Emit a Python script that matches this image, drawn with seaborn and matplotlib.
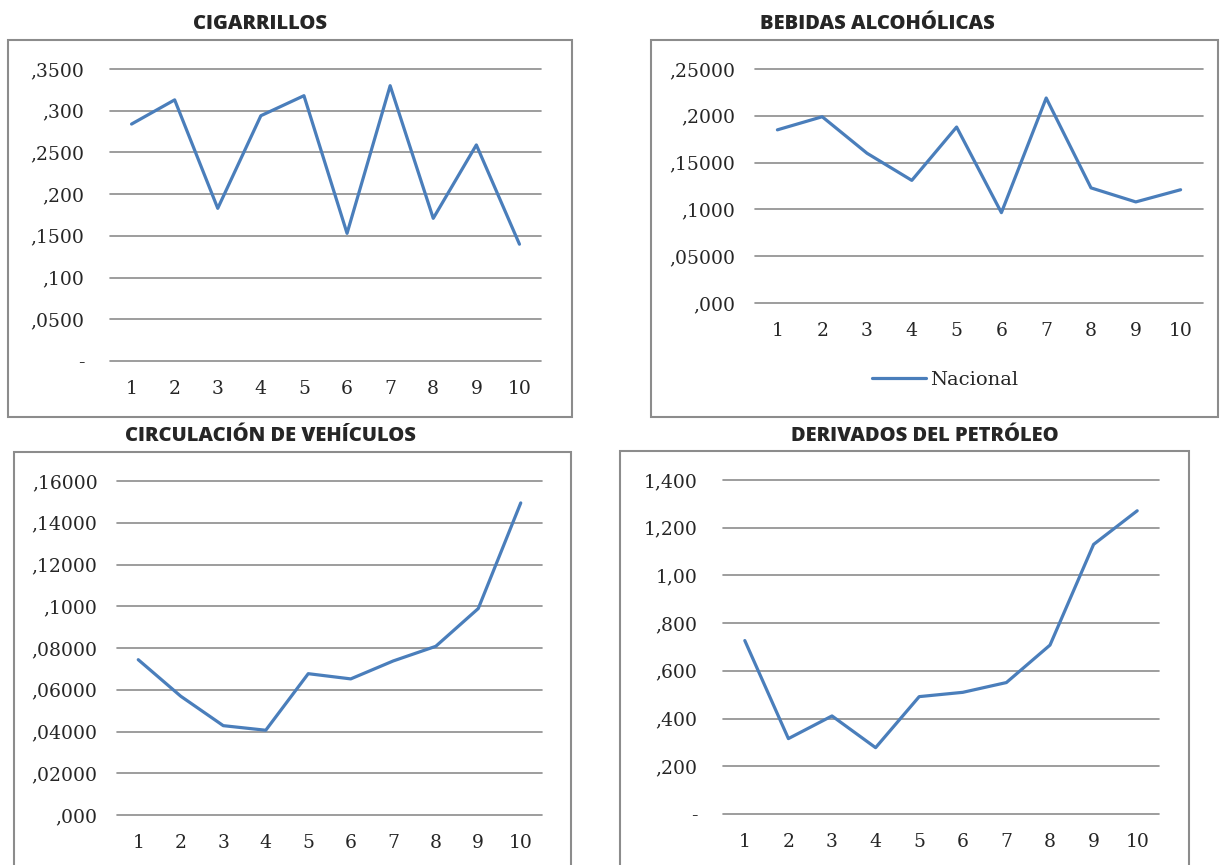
import numpy as np
import pandas as pd
import matplotlib
matplotlib.use("Agg")
import matplotlib.pyplot as plt
from matplotlib.patches import Rectangle
import seaborn as sns

# Periods shown on the x axis
periods = list(range(1, 11))

# Series values per panel
cigarrillos = [0.284, 0.313, 0.183, 0.294, 0.318, 0.153, 0.330, 0.171, 0.259, 0.140]
bebidas = [0.185, 0.199, 0.160, 0.131, 0.188, 0.0965, 0.219, 0.123, 0.108, 0.121]
vehiculos = [0.0744, 0.0569, 0.0428, 0.0406, 0.0677, 0.0652, 0.0738, 0.0808, 0.0989, 0.1495]
petroleo = [0.727, 0.316, 0.411, 0.278, 0.492, 0.510, 0.551, 0.708, 1.130, 1.271]

# Y tick positions and their printed labels
cig_ticks = [0, 0.05, 0.10, 0.15, 0.20, 0.25, 0.30, 0.35]
cig_labels = ["-", ",0500", ",100", ",1500", ",200", ",2500", ",300", ",3500"]
beb_ticks = [0, 0.05, 0.10, 0.15, 0.20, 0.25]
beb_labels = [",000", ",05000", ",1000", ",15000", ",2000", ",25000"]
veh_ticks = [0, 0.02, 0.04, 0.06, 0.08, 0.10, 0.12, 0.14, 0.16]
veh_labels = [",000", ",02000", ",04000", ",06000", ",08000", ",1000", ",12000", ",14000", ",16000"]
pet_ticks = [0, 0.2, 0.4, 0.6, 0.8, 1.0, 1.2, 1.4]
pet_labels = ["-", ",200", ",400", ",600", ",800", "1,00", "1,200", "1,400"]

titles = ["CIGARRILLOS", "BEBIDAS ALCOHÓLICAS", "CIRCULACIÓN DE VEHÍCULOS", "DERIVADOS DEL PETRÓLEO"]
series_name = "Nacional"

sns.set_style("white")
plt.rcParams["font.family"] = ["DejaVu Serif"]

W, H = 1220, 865
fig = plt.figure(figsize=(W / 100, H / 100), dpi=100)

LINE = "#4A7EBB"
GRID = "#8C8C8C"

def fx(px):
    return px / W

def fy(py):
    return 1 - py / H

# panel layout in pixels: plot area (x0, x1, ytop, ybot), frame (x0, x1, ytop, ybot), title centre
panels = [
    dict(area=(110, 541, 69, 361), box=(8, 572, 40, 417), tc=(260, 24),
         y=cigarrillos, ticks=cig_ticks, labels=cig_labels, pad=19.0, legend=False),
    dict(area=(755, 1203, 69, 303), box=(651, 1218, 40, 417), tc=(877, 24),
         y=bebidas, ticks=beb_ticks, labels=beb_labels, pad=15.0, legend=True),
    dict(area=(117, 542, 481, 815), box=(14, 571, 452, 870), tc=(270, 436),
         y=vehiculos, ticks=veh_ticks, labels=veh_labels, pad=14.5, legend=False),
    dict(area=(723, 1159, 480, 814), box=(620, 1189, 451, 870), tc=(925, 436),
         y=petroleo, ticks=pet_ticks, labels=pet_labels, pad=19.0, legend=False),
]

for p, title in zip(panels, titles):
    bx0, bx1, by0, by1 = p["box"]
    fig.patches.append(Rectangle((fx(bx0), fy(by1)), fx(bx1 - bx0), (by1 - by0) / H,
                                 transform=fig.transFigure, fill=False,
                                 edgecolor=GRID, linewidth=1.5, zorder=0))
    fig.text(fx(p["tc"][0]), fy(p["tc"][1]), title, ha="center", va="center",
             fontsize=14.5, fontweight=800, family=["Open Sans", "DejaVu Sans"])

    x0, x1, yt, yb = p["area"]
    ax = fig.add_axes([fx(x0), fy(yb), fx(x1 - x0), (yb - yt) / H])
    ax.set_facecolor("none")
    df = pd.DataFrame({"periodo": periods, "valor": p["y"]})
    sns.lineplot(data=df, x="periodo", y="valor", ax=ax, color=LINE, linewidth=2.3,
                 label=series_name if p["legend"] else None, legend=p["legend"])
    ax.set_xlim(0.5, 10.5)
    ax.set_ylim(p["ticks"][0], p["ticks"][-1])
    ax.set_xticks(periods)
    ax.set_xticklabels([str(v) for v in periods])
    ax.set_yticks(p["ticks"])
    ax.set_yticklabels(p["labels"])
    ax.tick_params(axis="y", length=0, pad=p["pad"] - 0.5, labelsize=13.5)
    ax.tick_params(axis="x", length=0, pad=14, labelsize=13.5)
    ax.set_xlabel("")
    ax.set_ylabel("")
    for s in ax.spines.values():
        s.set_visible(False)
    ax.yaxis.grid(True, color=GRID, linewidth=1.2)
    ax.xaxis.grid(False)
    ax.set_axisbelow(True)
    for gl in ax.get_ygridlines():
        gl.set_clip_on(False)
    if p["legend"]:
        ax.get_legend().remove()
        handles, labs = ax.get_legend_handles_labels()
        fig.legend(handles, labs, loc="center", bbox_to_anchor=(fx(945), fy(380)),
                   frameon=False, fontsize=14, handlelength=2.8, handletextpad=0.2)

fig.savefig("out.png", dpi=100)
